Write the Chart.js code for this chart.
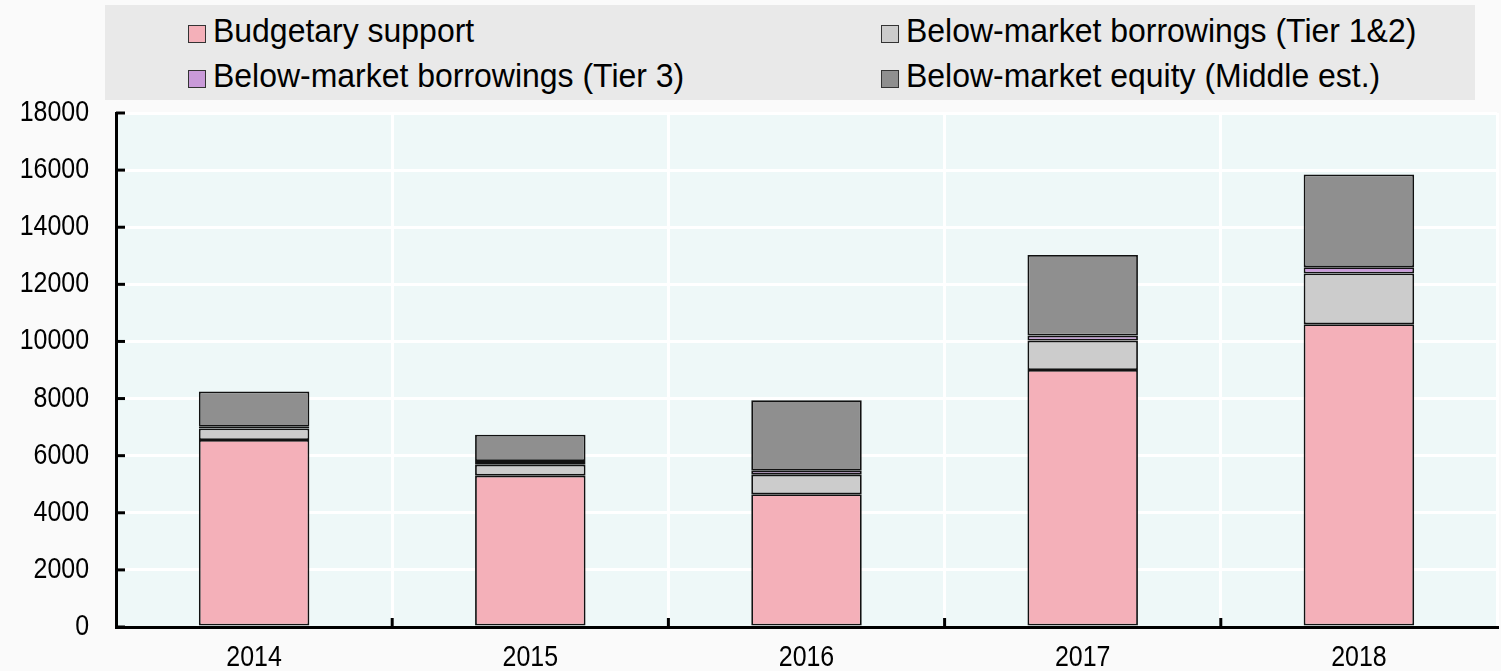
<!DOCTYPE html>
<html>
<head>
<meta charset="utf-8">
<script src="https://cdn.jsdelivr.net/npm/chart.js@4"></script>
<style>
  html, body { margin: 0; padding: 0; background: #fafafa; }
  body { width: 1501px; height: 671px; position: relative; overflow: hidden;
         font-family: "Liberation Sans", Arial, sans-serif; }
  #wrap { position: absolute; left: 0; top: 0; width: 1501px; height: 671px; }
  #legend { position: absolute; left: 105px; top: 5px; width: 1370px; height: 95px;
            background: #e9e9e9; }
  .item { position: absolute; color: #000; white-space: nowrap; height: 40px; }
  .box { position: absolute; left: 0; top: 15px; width: 16px; height: 16px; border: 1.5px solid #333; }
  .txt { position: absolute; left: 25px; top: 0; font-size: 34px; line-height: 40px;
         transform: scaleX(0.94); transform-origin: left center; }
</style>
</head>
<body>
<div id="wrap"><canvas id="myChart" width="1501" height="671"></canvas></div>
<div id="legend"></div>
<script>
const years = ["2014", "2015", "2016", "2017", "2018"];
const budgetary = [6550, 5300, 4650, 9000, 10600];
const tier12 = [400, 380, 680, 1030, 1780];
const tier3 = [60, 130, 140, 175, 220];
const equity = [1240, 920, 2470, 2820, 3250];

const labels = ["Budgetary support", "Below-market borrowings (Tier 1&2)",
                "Below-market borrowings (Tier 3)", "Below-market equity (Middle est.)"];
const colors = ["#f4b0b9", "#cccccc", "#c99ad9", "#8f8f8f"];

// legend, 2 columns, filled row by row
const legendPos = [[83, 5], [776, 5], [83, 50], [776, 50]];
const legendEl = document.getElementById("legend");
labels.forEach(function (lab, i) {
  const d = document.createElement("div");
  d.className = "item";
  d.style.left = legendPos[i][0] + "px";
  d.style.top = legendPos[i][1] + "px";
  d.innerHTML = '<span class="box" style="background:' + colors[i] + '"></span>' +
                '<span class="txt">' + lab + '</span>';
  legendEl.appendChild(d);
});

const plotBg = {
  id: "plotBg",
  beforeDraw(chart) {
    const a = chart.chartArea, c = chart.ctx;
    c.save();
    c.fillStyle = "#eef8f8";
    c.fillRect(a.left, a.top, a.right - a.left, a.bottom - a.top);
    c.restore();
  }
};

// narrow text: draw the scale labels squeezed horizontally
function narrowText(c, txt, x, y, align) {
  const sx = 0.86;
  c.save();
  c.translate(x, y);
  c.scale(sx, 1);
  c.textAlign = align;
  c.fillText(txt, 0, 0);
  c.restore();
}

// inward tick marks + labels
const axisDeco = {
  id: "axisDeco",
  afterDraw(chart) {
    const c = chart.ctx, a = chart.chartArea;
    const x = chart.scales.x, y = chart.scales.y;
    c.save();
    c.strokeStyle = "#000";
    c.lineWidth = 3;
    y.ticks.forEach(function (t) {
      const py = y.getPixelForValue(t.value);
      c.beginPath(); c.moveTo(a.left, py); c.lineTo(a.left + 9, py); c.stroke();
    });
    for (let i = 1; i < years.length; i++) {
      const px = (x.getPixelForValue(i - 1) + x.getPixelForValue(i)) / 2;
      c.beginPath(); c.moveTo(px, a.bottom); c.lineTo(px, a.bottom - 9); c.stroke();
    }
    c.fillStyle = "#000";
    c.font = "29px 'Liberation Sans', Arial, sans-serif";
    c.textBaseline = "middle";
    y.ticks.forEach(function (t) {
      narrowText(c, String(t.value), a.left - 27, y.getPixelForValue(t.value), "right");
    });
    years.forEach(function (yr, i) {
      narrowText(c, yr, x.getPixelForValue(i), a.bottom + 31, "center");
    });
    c.restore();
  }
};

const series = [budgetary, tier12, tier3, equity];
const datasets = series.map(function (d, i) {
  return {
    label: labels[i],
    data: d,
    backgroundColor: colors[i],
    borderColor: "#111",
    borderWidth: 1.8,
    borderSkipped: false,
    barPercentage: 0.4,
    categoryPercentage: 1.0
  };
});

new Chart(document.getElementById("myChart"), {
  type: "bar",
  data: { labels: years, datasets: datasets },
  options: {
    responsive: false,
    animation: false,
    layout: { padding: { top: 113, right: 4, left: 0, bottom: 0 } },
    plugins: { legend: { display: false }, tooltip: { enabled: false } },
    scales: {
      x: {
        stacked: true,
        grid: { color: "#ffffff", lineWidth: 3, drawTicks: false, offset: true },
        border: { color: "#000", width: 3 },
        ticks: { display: false },
        afterFit(s) { s.height = 44; }
      },
      y: {
        stacked: true,
        min: 0,
        max: 18000,
        grid: { color: "#ffffff", lineWidth: 3, drawTicks: false },
        border: { color: "#000", width: 3 },
        ticks: { stepSize: 2000, display: false },
        afterFit(s) { s.width = 116; }
      }
    }
  },
  plugins: [plotBg, axisDeco]
});
</script>
</body>
</html>
